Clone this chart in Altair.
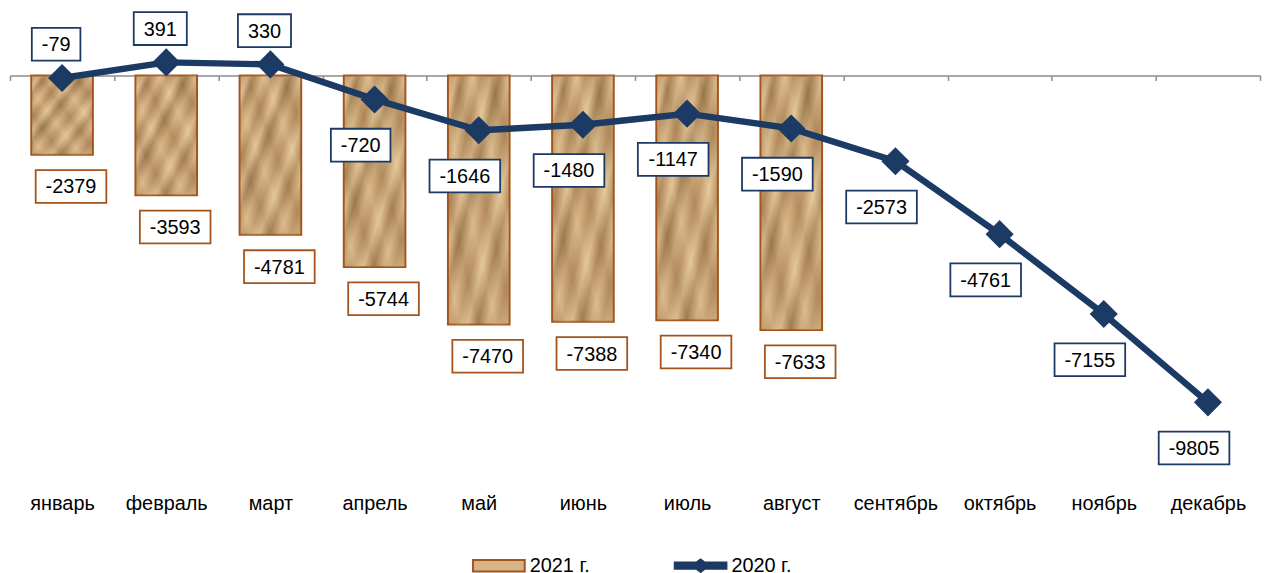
import altair as alt
import pandas as pd

months = ["январь", "февраль", "март", "апрель", "май", "июнь",
          "июль", "август", "сентябрь", "октябрь", "ноябрь", "декабрь"]
values_2020 = [-79, 391, 330, -720, -1646, -1480, -1147, -1590, -2573, -4761, -7155, -9805]
values_2021 = [-2379, -3593, -4781, -5744, -7470, -7388, -7340, -7633]
series_names = ["2021 г.", "2020 г."]

NAVY = "#1b3a64"
BROWN = "#a3541b"
FONT = "Liberation Sans"
FS = 20


def text_w(s):
    return sum(0.333 if c == "-" else 0.556 for c in s) * FS


def box_path(s):
    hw = (text_w(s) + 20) / 2 / 50
    hh = 33 / 2 / 50
    return f"M{-hw:.3f},{-hh:.3f}H{hw:.3f}V{hh:.3f}H{-hw:.3f}Z"


df20 = pd.DataFrame({"month": months, "v": values_2020})
df20["lab"] = df20["v"].astype(str)
df20["box"] = df20["lab"].map(box_path)
df20["pos"] = ["above" if v > -100 else "below" for v in values_2020]

df21 = pd.DataFrame({"month": months[:len(values_2021)], "v": values_2021})
df21["lab"] = df21["v"].astype(str)
df21["box"] = df21["lab"].map(box_path)

leg = pd.DataFrame({"month": ["январь", "январь"], "v": [0, 0], "series": series_names})

s = 329 / 9805
top_val = 64 / s
H = 470
bottom_val = top_val - H / s

x = alt.X("month:N", sort=months, scale=alt.Scale(paddingInner=0, paddingOuter=0),
          axis=alt.Axis(title=None, orient="bottom", offset=-406, domainColor="#8c8c8c",
                        domainWidth=1.5, tickColor="#8c8c8c", tickWidth=1.5, tickSize=5,
                        tickBand="extent", labelPadding=416, labelFont=FONT,
                        labelFontSize=FS, labelColor="#000000", labelAngle=0,
                        labelBaseline="top", grid=False))
y = alt.Y("v:Q", scale=alt.Scale(domain=[bottom_val, top_val], nice=False, zero=False),
          axis=None)

grad1 = alt.Gradient(
    gradient="linear", x1=0, y1=0, x2=1, y2=1,
    stops=[
        alt.GradientStop(offset=0.0, color="#caa574"),
        alt.GradientStop(offset=0.07, color="#e6c99c"),
        alt.GradientStop(offset=0.12, color="#a88154"),
        alt.GradientStop(offset=0.2, color="#d9b887"),
        alt.GradientStop(offset=0.27, color="#b48b5c"),
        alt.GradientStop(offset=0.35, color="#e2c393"),
        alt.GradientStop(offset=0.42, color="#9f7a4e"),
        alt.GradientStop(offset=0.5, color="#d4b07f"),
        alt.GradientStop(offset=0.58, color="#bd9566"),
        alt.GradientStop(offset=0.66, color="#e4c698"),
        alt.GradientStop(offset=0.74, color="#a98253"),
        alt.GradientStop(offset=0.82, color="#d6b383"),
        alt.GradientStop(offset=0.9, color="#b99162"),
        alt.GradientStop(offset=1.0, color="#dcbc8c"),
    ])
grad2 = alt.Gradient(
    gradient="linear", x1=1, y1=0, x2=0, y2=1,
    stops=[
        alt.GradientStop(offset=0.0, color="#f0d8b0"),
        alt.GradientStop(offset=0.15, color="#8e6a42"),
        alt.GradientStop(offset=0.3, color="#ecd2a6"),
        alt.GradientStop(offset=0.45, color="#9a744a"),
        alt.GradientStop(offset=0.6, color="#e8cca0"),
        alt.GradientStop(offset=0.75, color="#94704a"),
        alt.GradientStop(offset=0.9, color="#ead0a4"),
        alt.GradientStop(offset=1.0, color="#a07a50"),
    ])

base21 = alt.Chart(df21)
bars = base21.mark_bar(size=62, color=grad1, stroke=BROWN, strokeWidth=2).encode(x=x, y=y)
bars2 = base21.mark_bar(size=60, color=grad2, opacity=0.35).encode(x=x, y=y)

base20 = alt.Chart(df20)
line = base20.mark_line(color=NAVY, strokeWidth=6.5).encode(x=x, y=y)
pts = base20.mark_point(shape="diamond", filled=True, size=800, color=NAVY, opacity=1).encode(x=x, y=y)

shape_none = alt.Shape("box:N", scale=None, legend=None)

bar_box = base21.mark_point(size=10000, filled=True, fill="white", stroke=BROWN,
                            strokeWidth=1.8, opacity=1, xOffset=9, yOffset=32).encode(
    x=x, y=y, shape=shape_none)
bar_txt = base21.mark_text(font=FONT, fontSize=FS, color="black", baseline="middle",
                           xOffset=9, yOffset=33).encode(x=x, y=y, text="lab:N")

above = base20.transform_filter(alt.datum.pos == "above")
below = base20.transform_filter(alt.datum.pos == "below")

ln_box_a = above.mark_point(size=10000, filled=True, fill="white", stroke=NAVY,
                            strokeWidth=1.8, opacity=1, xOffset=-6, yOffset=-34).encode(
    x=x, y=y, shape=shape_none)
ln_txt_a = above.mark_text(font=FONT, fontSize=FS, color="black", baseline="middle",
                           xOffset=-6, yOffset=-33).encode(x=x, y=y, text="lab:N")
ln_box_b = below.mark_point(size=10000, filled=True, fill="white", stroke=NAVY,
                            strokeWidth=1.8, opacity=1, xOffset=-14, yOffset=46).encode(
    x=x, y=y, shape=shape_none)
ln_txt_b = below.mark_text(font=FONT, fontSize=FS, color="black", baseline="middle",
                           xOffset=-14, yOffset=47).encode(x=x, y=y, text="lab:N")

rect_sym = "M-1,-0.22H1V0.22H-1Z"
line_sym = ("M-1,-0.12H-0.16L0,-0.24L0.16,-0.12H1V0.12H0.16L0,0.24L-0.16,0.12H-1Z")

legend_layer = alt.Chart(leg).mark_point(filled=True, size=0, opacity=1, strokeWidth=2).encode(
    x=x, y=y,
    color=alt.Color("series:N", scale=alt.Scale(domain=series_names, range=["#d6b486", NAVY]),
                    legend=alt.Legend(title=None, orient="none", legendX=465, legendY=530,
                                      direction="horizontal", symbolSize=2704,
                                      symbolOpacity=1, symbolStrokeWidth=2,
                                      labelFont=FONT, labelFontSize=FS, labelColor="black",
                                      columnPadding=81, labelOffset=4, padding=0)),
    stroke=alt.Stroke("series:N", scale=alt.Scale(domain=series_names, range=[BROWN, NAVY])),
    shape=alt.Shape("series:N", scale=alt.Scale(domain=series_names, range=[rect_sym, line_sym])),
)

chart = alt.layer(legend_layer, bars, bars2, line, pts, bar_box, bar_txt, ln_box_a, ln_txt_a,
                  ln_box_b, ln_txt_b).resolve_scale(
    shape="independent", color="independent", stroke="independent"
).properties(
    width=1258, height=H,
    autosize=alt.AutoSizeParams(type="none"),
    padding={"left": 2, "top": 2, "right": 5, "bottom": 110},
).configure_view(stroke=None)

chart.save("out.html", embed_options={"renderer": "svg", "actions": False})
